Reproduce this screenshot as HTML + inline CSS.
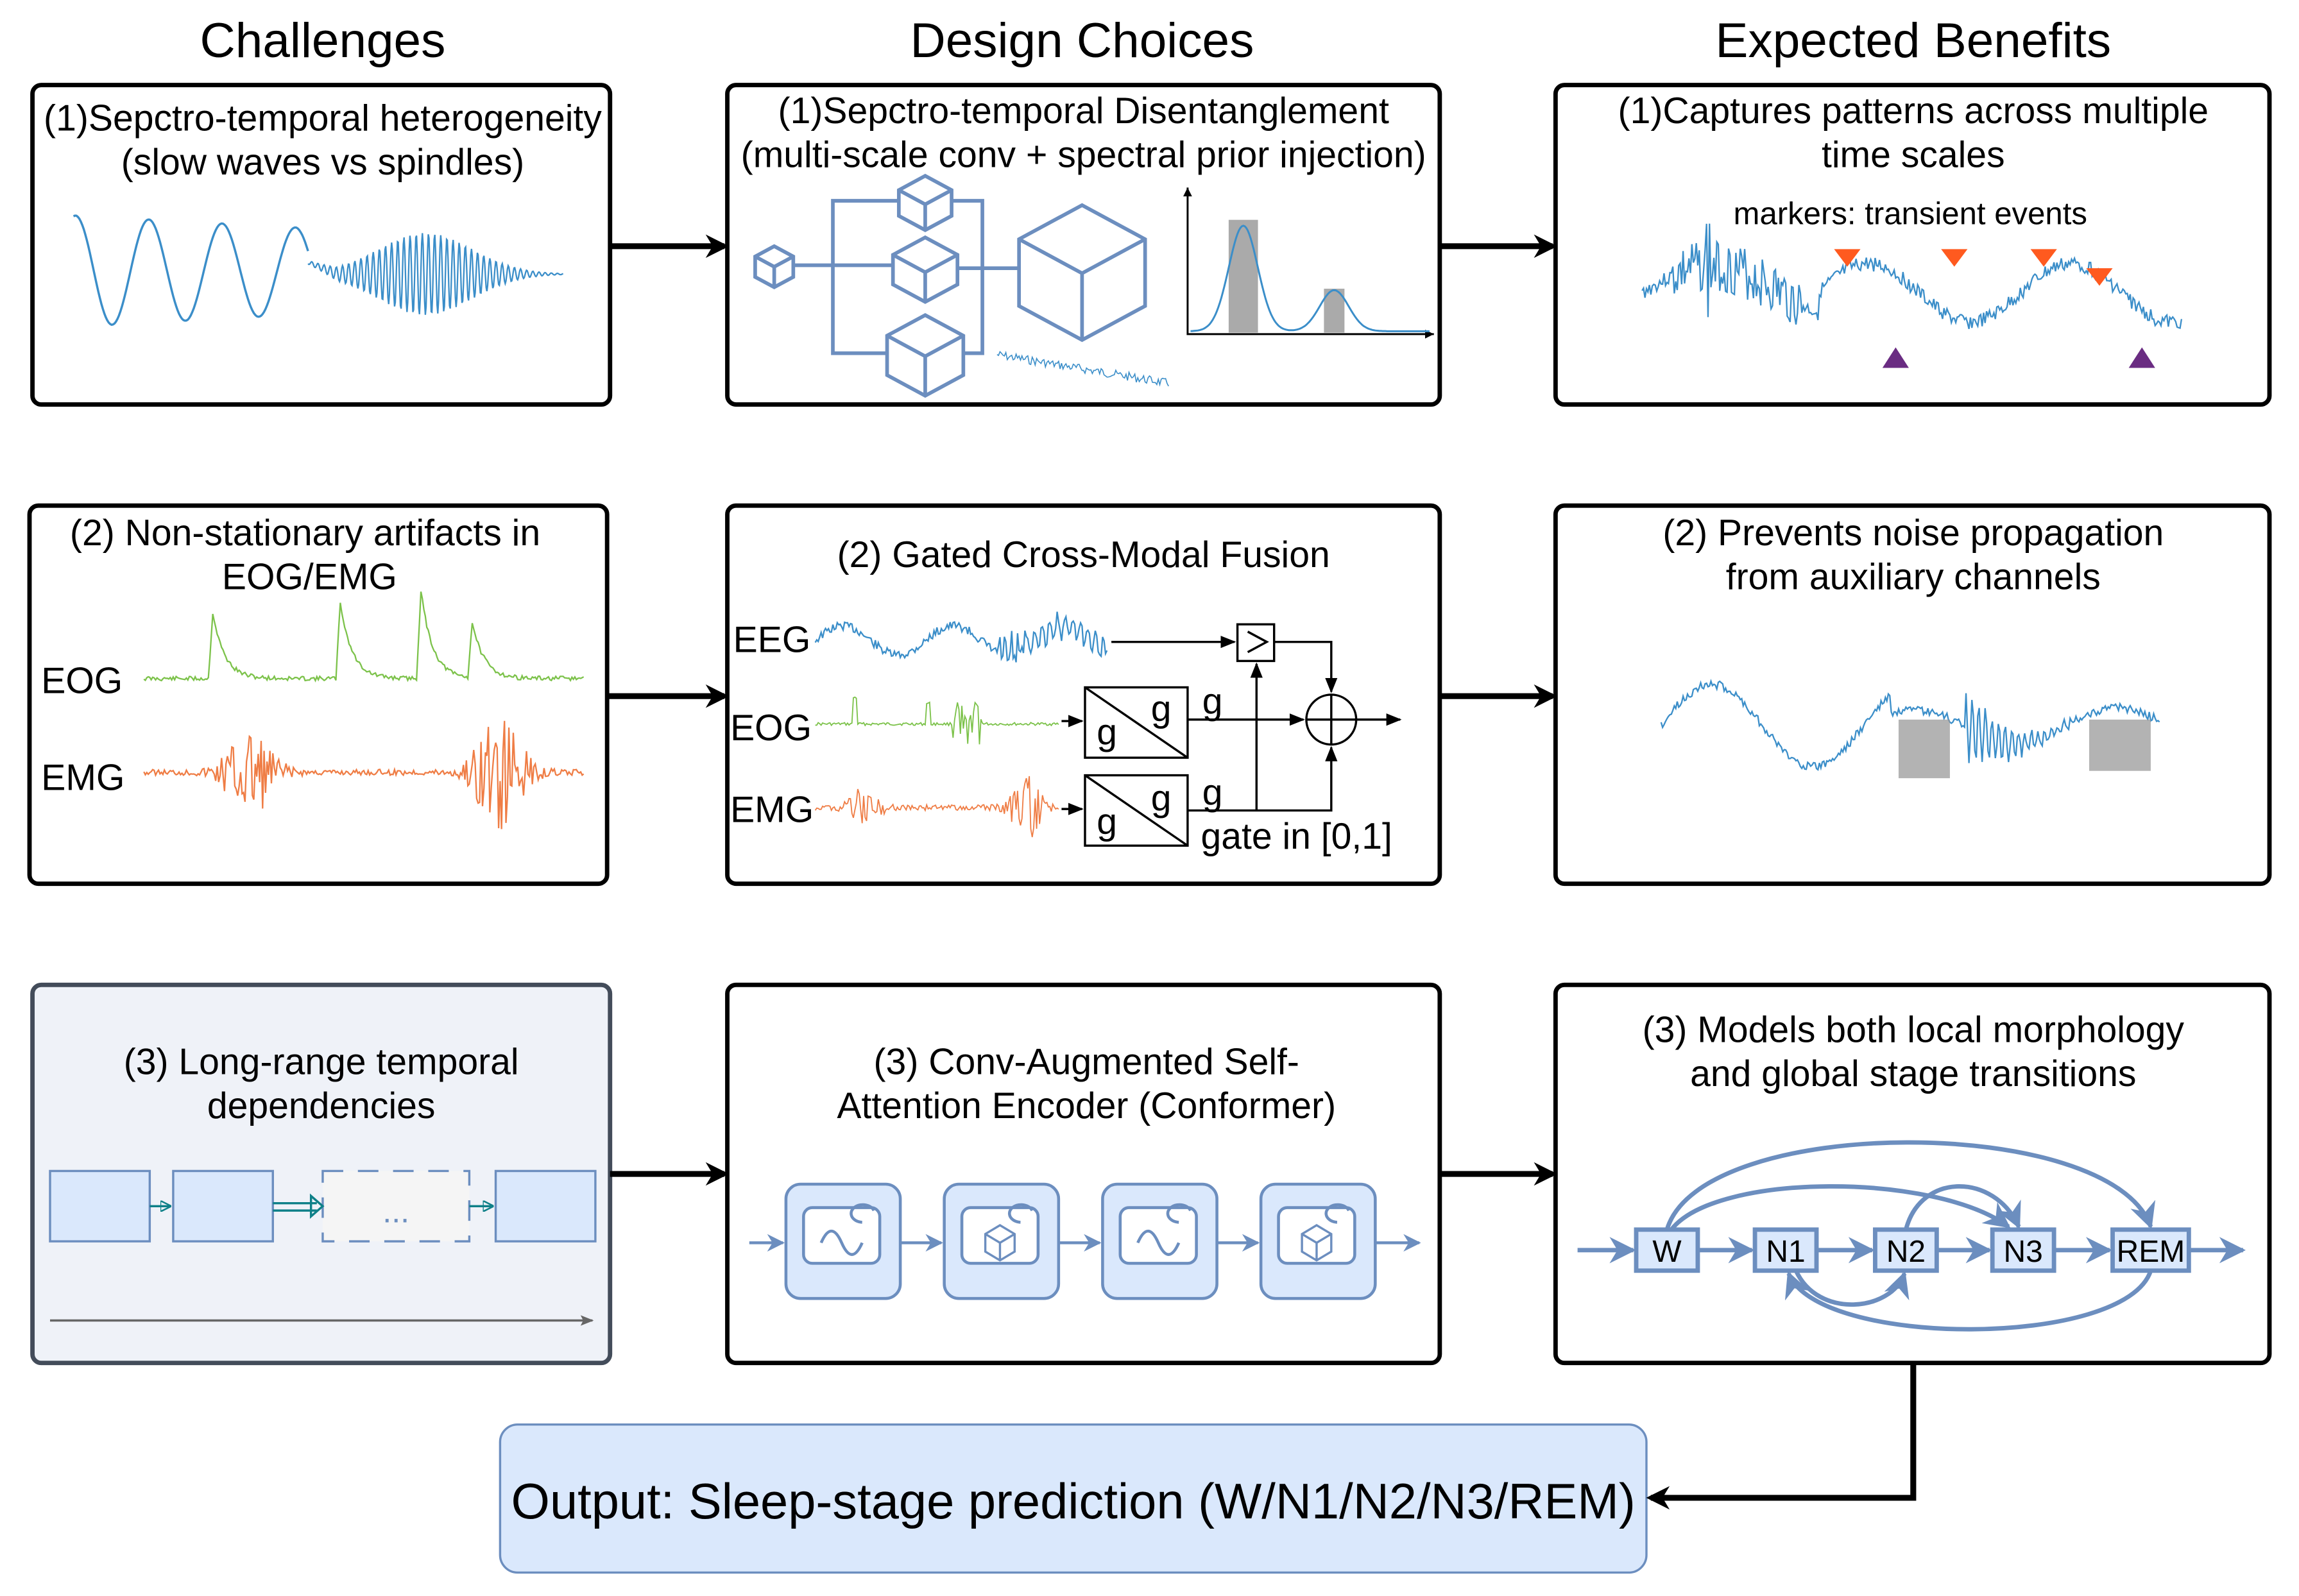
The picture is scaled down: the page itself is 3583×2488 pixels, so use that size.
<!DOCTYPE html>
<html><head><meta charset="utf-8">
<style>
html,body{margin:0;padding:0;background:#fff;}
svg{display:block;}
text{font-family:"Liberation Sans",sans-serif;}
</style></head>
<body>
<svg id="s" width="3583" height="2488" viewBox="0 0 1568 1089" xmlns="http://www.w3.org/2000/svg">
<defs>
<marker id="ab" viewBox="0 0 10 10" refX="8" refY="5" markerWidth="4" markerHeight="4" orient="auto"><path d="M0,0 L10,5 L0,10 L3,5z" fill="#000"/></marker>
<marker id="as" viewBox="0 0 10 10" refX="9" refY="5" markerWidth="7" markerHeight="7" orient="auto"><path d="M0,1 L10,5 L0,9z" fill="#000"/></marker>
<marker id="ablu" viewBox="0 0 10 10" refX="9" refY="5" markerWidth="6" markerHeight="6" orient="auto"><path d="M0,0 L10,5 L0,10 L3,5z" fill="#6c8ebf"/></marker>
<marker id="agr" viewBox="0 0 10 10" refX="9" refY="5" markerWidth="6" markerHeight="6" orient="auto"><path d="M0,1 L10,5 L0,9 L2,5z" fill="#666"/></marker>
<marker id="ate" viewBox="0 0 10 10" refX="9" refY="5" markerWidth="5" markerHeight="5" orient="auto"><path d="M0,0 L10,5 L0,10z" fill="none" stroke="#0e8088" stroke-width="1.5"/></marker>
</defs>
<g font-size="33.5" text-anchor="middle" fill="#000">
<text x="220" y="39">Challenges</text>
<text x="738" y="39">Design Choices</text>
<text x="1305" y="39">Expected Benefits</text>
</g>
<g fill="none" stroke="#000" stroke-width="3">
<rect x="22" y="58" width="394" height="218" rx="6"/>
<rect x="496" y="58" width="486" height="218" rx="6"/>
<rect x="1061" y="58" width="487" height="218" rx="6"/>
<rect x="20" y="345" width="394" height="258" rx="6"/>
<rect x="496" y="345" width="486" height="258" rx="6"/>
<rect x="1061" y="345" width="487" height="258" rx="6"/>
<rect x="22" y="672" width="394" height="258" rx="6" fill="#eff2f8" stroke="#434c5a"/>
<rect x="496" y="672" width="486" height="258" rx="6"/>
<rect x="1061" y="672" width="487" height="258" rx="6"/>
</g>
<rect x="341" y="972" width="782" height="101" rx="12" fill="#dae8fc" stroke="#6c8ebf" stroke-width="1.5"/>
<text x="732" y="1036" font-size="34" text-anchor="middle">Output: Sleep-stage prediction (W/N1/N2/N3/REM)</text>
<g stroke="#000" stroke-width="4" fill="none" marker-end="url(#ab)">
<line x1="416" y1="168" x2="494" y2="168"/>
<line x1="982" y1="168" x2="1059" y2="168"/>
<line x1="414" y1="475" x2="494" y2="475"/>
<line x1="982" y1="475" x2="1059" y2="475"/>
<line x1="416" y1="801" x2="494" y2="801"/>
<line x1="982" y1="801" x2="1059" y2="801"/>
<polyline points="1305,930 1305,1022 1126,1022"/>
</g>
<g font-size="25" text-anchor="middle">
<text x="220" y="89">(1)Sepctro-temporal heterogeneity</text>
<text x="220" y="119">(slow waves vs spindles)</text>
<text x="739" y="84">(1)Sepctro-temporal Disentanglement</text>
<text x="739" y="114">(multi-scale conv + spectral prior injection)</text>
<text x="1305" y="84">(1)Captures patterns across multiple</text>
<text x="1305" y="114">time scales</text>
<text x="1303" y="153" font-size="21.5">markers: transient events</text>
<text x="208" y="372">(2) Non-stationary artifacts in</text>
<text x="211" y="402">EOG/EMG</text>
<text x="739" y="387">(2) Gated Cross-Modal Fusion</text>
<text x="1305" y="372">(2) Prevents noise propagation</text>
<text x="1305" y="402">from auxiliary channels</text>
<text x="219" y="733">(3) Long-range temporal</text>
<text x="219" y="763">dependencies</text>
<text x="741" y="733">(3) Conv-Augmented Self-</text>
<text x="741" y="763">Attention Encoder (Conformer)</text>
<text x="1305" y="711">(3) Models both local morphology</text>
<text x="1305" y="741">and global stage transitions</text>
</g>
<g font-size="25">
<text x="28" y="473">EOG</text>
<text x="28" y="539">EMG</text>
<text x="500" y="445">EEG</text>
<text x="498" y="505">EOG</text>
<text x="498" y="561">EMG</text>
</g>
<g id="waves" fill="none" stroke-width="1"></g>
<g fill="none" stroke="#6c8ebf" stroke-width="2.5">
<polyline points="542,181 568,181 568,137 612,137"/>
<line x1="568" y1="181" x2="608" y2="181"/>
<polyline points="568,181 568,241 604,241"/>
<polyline points="650,137 670,137 670,241 657,241"/>
<line x1="653" y1="183" x2="694" y2="183"/>
</g>
<g id="cubes" fill="#fff" stroke="#6c8ebf" stroke-width="2.5"></g>
<g fill="none" stroke="#000" stroke-width="1.3">
<polyline points="810,128 810,228 978,228" />
</g>
<path d="M810,128 l-3,6 h6z M978,228 l-6,-3 v6z" fill="#000"/>
<rect x="838" y="150" width="20" height="77" fill="#aaa"/>
<rect x="903" y="197" width="14" height="30" fill="#aaa"/>
<path id="pdf" fill="none" stroke="#3b8ec9" stroke-width="1.3"/>
<g fill="#ff5a1f">
<path d="M1251,170h18l-9,12z"/><path d="M1324,170h18l-9,12z"/><path d="M1385,170h18l-9,12z"/><path d="M1423,183h18l-9,12z"/>
</g>
<g fill="#6a2c82"><path d="M1284,251h18l-9,-14z"/><path d="M1452,251h18l-9,-14z"/></g>
<rect x="1295" y="491" width="35" height="40" fill="#999" opacity="0.75"/>
<rect x="1425" y="491" width="42" height="35" fill="#999" opacity="0.75"/>
<g fill="none" stroke="#000" stroke-width="1.5">
<line x1="758" y1="438" x2="842" y2="438" marker-end="url(#as)"/>
<rect x="844" y="426" width="25" height="25" fill="#fff"/>
<polyline points="851,431 864,438 851,445" />
<polyline points="869,438 908,438 908,472" marker-end="url(#as)"/>
<circle cx="908" cy="491" r="17"/>
<line x1="891" y1="491" x2="925" y2="491"/><line x1="908" y1="474" x2="908" y2="508"/>
<line x1="925" y1="491" x2="955" y2="491" marker-end="url(#as)"/>
<line x1="724" y1="492" x2="738" y2="492" marker-end="url(#as)"/>
<line x1="724" y1="552" x2="738" y2="552" marker-end="url(#as)"/>
<rect x="740" y="469" width="70" height="48"/>
<line x1="740" y1="469" x2="810" y2="517"/>
<rect x="740" y="529" width="70" height="48"/>
<line x1="740" y1="529" x2="810" y2="577"/>
<line x1="810" y1="491" x2="889" y2="491" marker-end="url(#as)"/>
<polyline points="810,553 908,553 908,510" marker-end="url(#as)"/>
<line x1="857" y1="553" x2="857" y2="453" marker-end="url(#as)"/>
</g>
<g font-size="25">
<text x="748" y="508">g</text><text x="785" y="492">g</text><text x="820" y="487">g</text>
<text x="748" y="569">g</text><text x="785" y="553">g</text><text x="820" y="549">g</text>
<text x="819" y="579">gate in [0,1]</text>
</g>
<g stroke="#6c8ebf" stroke-width="1.5" fill="#dae8fc">
<rect x="34" y="799" width="68" height="48"/><rect x="118" y="799" width="68" height="48"/><rect x="338" y="799" width="68" height="48"/>
</g>
<rect x="220" y="799" width="100" height="48" fill="#f5f5f5" stroke="#6c8ebf" stroke-width="1.5" stroke-dasharray="14,10"/>
<text x="270" y="834" font-size="22" text-anchor="middle" fill="#6c8ebf">...</text>
<g stroke="#0e8088" stroke-width="1.5" fill="none">
<line x1="102" y1="823" x2="116" y2="823" marker-end="url(#ate)"/>
<line x1="186" y1="821" x2="216" y2="821"/><line x1="186" y1="826" x2="216" y2="826"/>
<path d="M212,816 l8,7 l-8,7z"/>
<line x1="320" y1="823" x2="336" y2="823" marker-end="url(#ate)"/>
</g>
<line x1="34" y1="901" x2="404" y2="901" stroke="#666" stroke-width="1.5" marker-end="url(#agr)"/>
<g id="conf"></g>
<g fill="none" stroke="#6c8ebf" stroke-width="3">
<line x1="1076" y1="853" x2="1114" y2="853" marker-end="url(#ablu)"/>
<line x1="1158" y1="853" x2="1195" y2="853" marker-end="url(#ablu)"/>
<line x1="1239" y1="853" x2="1277" y2="853" marker-end="url(#ablu)"/>
<line x1="1321" y1="853" x2="1357" y2="853" marker-end="url(#ablu)"/>
<line x1="1401" y1="853" x2="1439" y2="853" marker-end="url(#ablu)"/>
<line x1="1493" y1="853" x2="1530" y2="853" marker-end="url(#ablu)"/>
<path d="M1137,839 C1160,760 1440,760 1467,837" marker-end="url(#ablu)"/>
<path d="M1140,839 C1170,800 1320,800 1370,837" marker-end="url(#ablu)"/>
<path d="M1300,839 C1310,800 1360,800 1377,837" marker-end="url(#ablu)"/>
<path d="M1467,867 C1450,920 1240,920 1220,869" marker-end="url(#ablu)"/>
<path d="M1225,867 C1240,900 1290,895 1299,869" marker-end="url(#ablu)"/>
</g>
<g fill="#dae8fc" stroke="#6c8ebf" stroke-width="3">
<rect x="1116" y="839" width="42" height="28"/><rect x="1197" y="839" width="42" height="28"/>
<rect x="1279" y="839" width="42" height="28"/><rect x="1359" y="839" width="42" height="28"/>
<rect x="1441" y="839" width="52" height="28"/>
</g>
<g font-size="21" text-anchor="middle">
<text x="1137" y="861">W</text><text x="1218" y="861">N1</text><text x="1300" y="861">N2</text><text x="1380" y="861">N3</text><text x="1467" y="861">REM</text>
</g>
</svg>
<script>
var NS="http://www.w3.org/2000/svg";
function rnd(s){return function(){s=(s*9301+49297)%233280;return s/233280-0.5;};}
function add(g,d,c,w){var p=document.createElementNS(NS,"path");p.setAttribute("d",d);p.setAttribute("stroke",c);p.setAttribute("stroke-width",w||1.2);p.setAttribute("fill","none");document.getElementById(g).appendChild(p);}
function mk(x0,x1,f,step){var d="";for(var x=x0;x<=x1;x+=step){d+=(x==x0?"M":"L")+x.toFixed(1)+","+f(x).toFixed(1);}return d;}
var B="#3b8ec9";
add("waves",mk(50,210,function(x){return 185-38*Math.sin((x-50)/160*2*Math.PI*3.2+1.4)*(1-(x-50)/700);},1),B,1.5);
add("waves",mk(210,384,function(x){var e=Math.exp(-Math.pow((x-290)/45,2));return 187+(x<230?-8*(1-(x-210)/20):0)+28*e*Math.sin(x*1.5);},0.5),B,1);
var r=rnd(7);add("waves",mk(680,797,function(x){return 242+(x-680)/6+r()*6;},1),B,0.7);
document.getElementById("pdf").setAttribute("d",mk(812,975,function(x){return 226-72*Math.exp(-Math.pow((x-848)/14,2))-28*Math.exp(-Math.pow((x-910)/14,2));},1));
r=rnd(3);add("waves",mk(1120,1488,function(x){var t=x-1120;var base=200-18*Math.sin(t/30);if(x>1240)base=200-20*Math.sin((t-120)/22);var a=(x>1140&&x<1230)?18:5;if(Math.abs(x-1166)<3)a=45;return base+r()*a*2;},1),B,1);
r=rnd(11);add("waves",mk(98,398,function(x){var v=463+r()*3;[145,232,287,322].forEach(function(p,i){var h=[45,52,60,38][i];if(x>=p-3&&x<p)v-=h*(x-p+3)/3;else if(x>=p)v-=h*Math.exp(-(x-p)/8);});return v;},1),"#7cc24a",1);
r=rnd(5);add("waves",mk(98,398,function(x){var a=2+30*Math.exp(-Math.pow((x-170)/18,2))+38*Math.exp(-Math.pow((x-340)/18,2));return 527+r()*a*2;},1),"#ef7d45",1);
r=rnd(13);add("waves",mk(556,755,function(x){var a=(x>680&&x<700)?14:3;var s=(x>685&&x<755)?8*Math.sin(x*1.2):0;return 437-10*Math.sin((x-556)/12)+s+r()*a*2;},1),B,1);
r=rnd(17);add("waves",mk(556,722,function(x){var v=494+r()*2;if(Math.abs(x-583)<2)v-=18;if(Math.abs(x-633)<2)v-=14;if(x>648&&x<672)v+=r()*30;return v;},1),"#7cc24a",0.8);
r=rnd(19);add("waves",mk(556,722,function(x){var a=2+14*Math.exp(-Math.pow((x-590)/10,2))+22*Math.exp(-Math.pow((x-700)/10,2));return 551+r()*a*2;},1),"#ef7d45",0.8);
r=rnd(23);add("waves",mk(1133,1473,function(x){var t=x-1133;var a=(x>1340&&x<1420)?22*Math.exp(-(x-1345)/35):3;var amp=x<1290?28:(x<1345?10:12);return 495-amp*Math.sin(t/22)+(a>3?a*Math.sin(x*1.4):0)+r()*6;},1),B,1);
function cube(cx,top,w,hgt){var g=document.getElementById("cubes");var h=w/2,q=w*0.27,bot=top+hgt;
var d="M"+(cx-h)+","+(top+q)+"L"+cx+","+top+"L"+(cx+h)+","+(top+q)+"L"+(cx+h)+","+(bot-q)+"L"+cx+","+bot+"L"+(cx-h)+","+(bot-q)+"Z";
var p=document.createElementNS(NS,"path");p.setAttribute("d",d);g.appendChild(p);
var l=document.createElementNS(NS,"path");l.setAttribute("d","M"+(cx-h)+","+(top+q)+"L"+cx+","+(top+2*q)+"L"+(cx+h)+","+(top+q)+"M"+cx+","+(top+2*q)+"L"+cx+","+bot);l.setAttribute("fill","none");g.appendChild(l);}
cube(528,168,26,28);cube(631,120,36,37);cube(631,162,44,44);cube(631,215,52,55);cube(738,140,86,92);
var cf=document.getElementById("conf");var html="";
var xs=[536,644,752,860];
html+='<line x1="511" y1="848" x2="534" y2="848" stroke="#6c8ebf" stroke-width="2" marker-end="url(#ablu)"/>';
xs.forEach(function(x,i){
html+='<rect x="'+x+'" y="808" width="78" height="78" rx="10" fill="#dae8fc" stroke="#6c8ebf" stroke-width="2"/>';
html+='<rect x="'+(x+12)+'" y="824" width="52" height="38" rx="6" fill="#fff" stroke="#6c8ebf" stroke-width="2"/>';
html+='<path d="M'+(x+60)+',826 a8,6 0 1 0 -8,8" fill="none" stroke="#6c8ebf" stroke-width="2"/>';
if(i%2==0)html+='<path d="M'+(x+24)+',848 q7,-16 14,0 t14,0" fill="none" stroke="#6c8ebf" stroke-width="2"/>';
else html+='<path d="M'+(x+28)+',842 l10,-6 l10,6 v12 l-10,6 l-10,-6z M'+(x+28)+',842 l10,6 l10,-6 M'+(x+38)+',848 v12" fill="none" stroke="#6c8ebf" stroke-width="1.5"/>';
var nx=(i<3?xs[i+1]-2:968);
html+='<line x1="'+(x+78)+'" y1="848" x2="'+nx+'" y2="848" stroke="#6c8ebf" stroke-width="2" marker-end="url(#ablu)"/>';
});
cf.innerHTML=html;
</script>
</body></html>
